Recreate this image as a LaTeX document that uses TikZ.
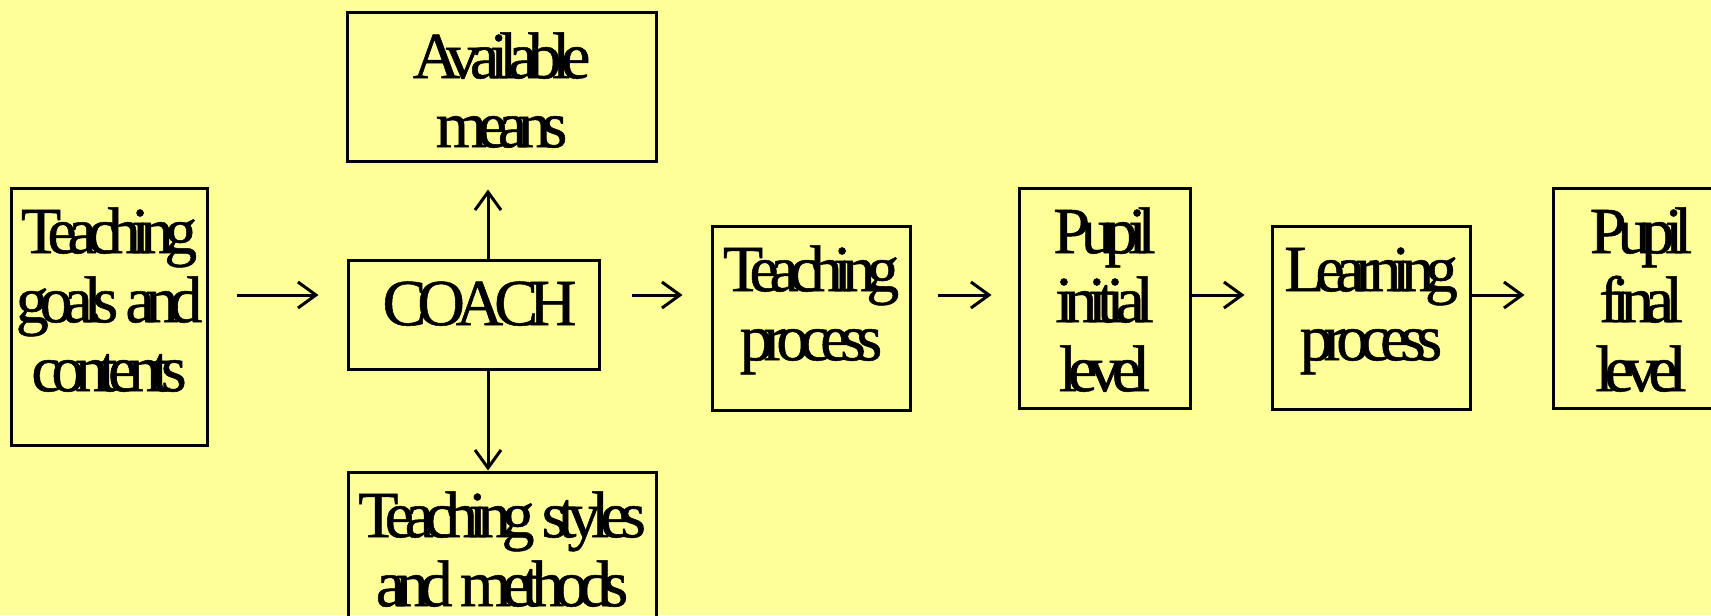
\documentclass[tikz,border=0pt]{standalone}
\usepackage{fontspec}
\setmainfont{Liberation Serif}[LetterSpace=-14,FakeBold=0.8]
\usetikzlibrary{arrows.meta}
\definecolor{bgyellow}{HTML}{FFFF99}
\begin{document}
\begin{tikzpicture}[x=0.5pt,y=-0.5pt]
% line width of boxes and arrows
\def\lw{1.5pt}
% first baseline sits this far under the strut top
\def\drop{-9pt}
% node style definition
\tikzstyle{block} = [draw, line width=\lw, rectangle, inner sep=0pt];
\tikzstyle{words} = [inner sep=0pt, anchor=north, align=center,
	font=\fontsize{33}{34.5}\selectfont];
\tikzstyle{link} = [line width=\lw,
	-{Straight Barb[length=9pt,width=13pt,line width=\lw]}];
% background
\fill[bgyellow] (0,0) rectangle (1711,615);
\useasboundingbox (0,0) rectangle (1711,615);

\node[block, minimum width=154.5pt, minimum height=74pt] (means) at (501.5,87) {};
\node[words] (meanstxt) at ([yshift=\drop]means.north) {\strut Available\\means};

\node[block, minimum width=98pt, minimum height=128.5pt] (goals) at (109,316.5) {};
\node[words] (goalstxt) at ([yshift=\drop]goals.north) {\strut Teaching\\goals and\\contents};

\node[block, minimum width=125.5pt, minimum height=54.5pt] (coach) at (473.5,314.5) {};
\node[words] (coachtxt) at ([xshift=3pt,yshift=\drop]coach.north) {\strut COACH};

\node[block, minimum width=154pt, minimum height=89pt] (styles) at (502,561) {};
\node[words] (stylestxt) at ([yshift=\drop]styles.north) {\strut Teaching styles\\and methods};

\node[block, minimum width=99pt, minimum height=92pt] (tproc) at (811,318) {};
\node[words] (tproctxt) at ([yshift=\drop]tproc.north) {\strut Teaching\\process};

\node[block, minimum width=85.5pt, minimum height=110pt] (pinit) at (1104.5,298) {};
\node[words] (pinittxt) at ([yshift=\drop]pinit.north) {\strut Pupil\\initial\\level};

\node[block, minimum width=99pt, minimum height=91.5pt] (lproc) at (1371,317.5) {};
\node[words] (lproctxt) at ([yshift=\drop]lproc.north) {\strut Learning\\process};

\node[block, minimum width=88pt, minimum height=110pt] (pfinal) at (1641,298) {};
\node[words] (pfinaltxt) at ([yshift=\drop]pfinal.north) {\strut Pupil\\final\\level};

% arrows
\coordinate (row) at (0,295);
\coordinate (col) at (488,0);
\draw[link, shorten <=14pt, shorten >=14pt] (goals.east |- row) -- (coach.west |- row);
\draw[link, shorten <=15.5pt, shorten >=14pt] (coach.east |- row) -- (tproc.west |- row);
\draw[link, shorten <=13pt, shorten >=13pt] (tproc.east |- row) -- (pinit.west |- row);
\draw[link, shorten >=13pt] (pinit.east |- row) -- (lproc.west |- row);
\draw[link, shorten >=13.5pt] (lproc.east |- row) -- (pfinal.west |- row);
\draw[link, shorten >=13.5pt] (coach.north -| col) -- (means.south -| col);
\draw[link] (coach.south -| col) -- (styles.north -| col);
\end{tikzpicture}
\end{document}
